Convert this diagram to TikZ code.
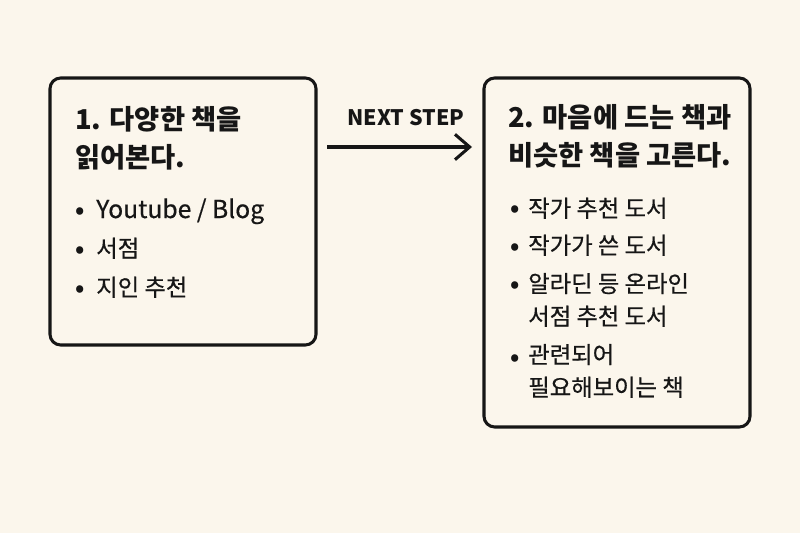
\documentclass[tikz,border=0pt]{standalone}
\usepackage{fontspec}
\setmainfont{Noto Sans CJK KR}
\newfontfamily\medio[FakeBold=0.5]{Noto Sans CJK KR}
\usepackage{xcolor}
\usetikzlibrary{positioning,arrows.meta}
\definecolor{fondo}{RGB}{251,246,236}
\definecolor{tinta}{RGB}{22,22,22}

\begin{document}
\begin{tikzpicture}[x=0.75pt, y=0.75pt, text=tinta,
  caja/.style={draw=tinta, line width=2.3pt, rounded corners=8pt, minimum width=199.5pt},
  titulo/.style={anchor=base west, inner sep=0pt, align=left, font=\bfseries\fontsize{20.5}{28.5}\selectfont},
  texto/.style={anchor=base west, inner sep=0pt, align=left, font=\medio\fontsize{17.5}{24.5}\selectfont},
  vineta/.style={anchor=base, inner sep=0pt, font=\bfseries\fontsize{17.5}{24.5}\selectfont},
  flecha/.style={-{Straight Barb[length=11pt, width=19pt]}, line width=2.3pt, draw=tinta}]
\fill[fondo] (0,0) rectangle (800,533);
\useasboundingbox (0,0) rectangle (800,533);
% cajas
\node[caja, minimum height=200.25pt] (paso1) at (183,321.5) {};
\node[caja, minimum height=261.75pt] (paso2) at (617,280.5) {};
% paso 1
\node[titulo] (t1) at (75,365) {1. 다양한 책을\\읽어본다.};
\node[vineta] (v1a) at (80.5,315) {•}; \node[texto, font=\medio\fontsize{18.5}{24.5}\selectfont] (i1a) at (96,315) {Youtube / Blog};
\node[vineta] (v1b) at (80.5,276) {•}; \node[texto] (i1b) at (96,276) {서점};
\node[vineta] (v1c) at (80.5,237) {•}; \node[texto] (i1c) at (96,237) {지인 추천};
% paso 2
\node[titulo] (t2) at (508,367) {2. 마음에 드는 책과\\비슷한 책을 고른다.};
\node[vineta] (v2a) at (515,316) {•}; \node[texto] (i2a) at (528,316) {작가 추천 도서};
\node[vineta] (v2b) at (515,279) {•}; \node[texto] (i2b) at (528,279) {작가가 쓴 도서};
\node[vineta] (v2c) at (515,241) {•}; \node[texto] (i2c) at (528,208) {알라딘 등 온라인\\서점 추천 도서};
\node[vineta] (v2d) at (515,168) {•}; \node[texto] (i2d) at (528,137) {관련되어\\필요해보이는 책};
% flecha
\coordinate (desde) at (327,386);
\coordinate (hasta) at (472,386);
\node[anchor=base, inner sep=0pt, font=\bfseries\fontsize{16}{20}\selectfont] (sig) at (406,407) {NEXT STEP};
\draw[flecha] (desde) -- (hasta);
\end{tikzpicture}
\end{document}
